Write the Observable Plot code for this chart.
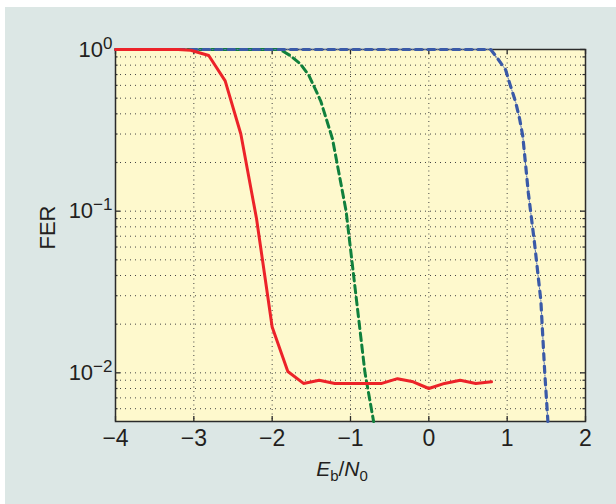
<!DOCTYPE html>
<html><head><meta charset="utf-8">
<script src="https://cdn.jsdelivr.net/npm/d3@7"></script>
<script src="https://cdn.jsdelivr.net/npm/@observablehq/plot@0.6"></script>
<style>
html,body{margin:0;padding:0;background:#fff;}
#wrap{position:absolute;left:5px;top:7px;width:611px;height:497px;background:#dce7e5;}
#wrap svg{background:transparent;font-family:"Liberation Sans",Arial,Helvetica,sans-serif;}
</style></head><body><div id="wrap"></div>
<script>
// Red (solid) curve
const redX = [-4, -3.2, -3.04, -2.81, -2.6, -2.4, -2.2, -2.0, -1.8, -1.6, -1.4, -1.2, -1.0, -0.8, -0.6, -0.4, -0.2, 0, 0.2, 0.4, 0.6, 0.8];
const redY = [1, 1, 0.99, 0.918, 0.64, 0.30, 0.090, 0.0192, 0.0102, 0.0086, 0.0090, 0.0086, 0.0086, 0.0086, 0.0086, 0.0092, 0.0088, 0.0080, 0.0086, 0.0090, 0.0086, 0.0088];
// Green (dashed) curve
const greenX = [-4, -1.9, -1.77, -1.64, -1.53, -1.38, -1.23, -1.056, -0.93, -0.815, -0.705];
const greenY = [1, 1, 0.918, 0.815, 0.69, 0.48, 0.28, 0.10, 0.030, 0.010, 0.005];
// Blue (dash-dot) curve
const blueX = [-4, 0.79, 0.85, 0.98, 1.04, 1.11, 1.16, 1.20, 1.27, 1.35, 1.43, 1.48, 1.52];
const blueY = [1, 1, 0.918, 0.75, 0.60, 0.47, 0.37, 0.29, 0.13, 0.063, 0.028, 0.010, 0.005];

const xTicks = [-4, -3, -2, -1, 0, 1, 2];
const xGrid = [-3, -2, -1, 0, 1];
const yMajor = [1, 0.1, 0.01];
const yMinor = [0.006, 0.007, 0.008, 0.009, 0.02, 0.03, 0.04, 0.05, 0.06, 0.07, 0.08, 0.09, 0.2, 0.3, 0.4, 0.5, 0.6, 0.7, 0.8, 0.9];
const yGrid = [0.006, 0.007, 0.008, 0.009, 0.01, 0.02, 0.03, 0.04, 0.05, 0.06, 0.07, 0.08, 0.09, 0.1, 0.2, 0.3, 0.4, 0.5, 0.6, 0.7, 0.8, 0.9];
const xDomain = [-4, 2];
const yDomain = [0.005, 1];

const toPts = (xs, ys) => xs.map((x, i) => ({x, y: ys[i]}));
const red = toPts(redX, redY), green = toPts(greenX, greenY), blue = toPts(blueX, blueY);

const W = 611, H = 497, mL = 110, mR = 31, mT = 42, mB = 83;
const fw = W - mL - mR, fh = H - mT - mB;
const ink = "#231f20";

const plot = Plot.plot({
  width: W, height: H,
  marginLeft: mL, marginRight: mR, marginTop: mT, marginBottom: mB,
  style: {background: "transparent", fontFamily: '"Liberation Sans", Arial, sans-serif', color: ink},
  x: {domain: xDomain},
  y: {type: "log", domain: yDomain},
  marks: [
    Plot.frame({fill: "#fef9cd", stroke: null}),
    Plot.ruleX(xGrid, {x: d => d, stroke: "#444", strokeDasharray: "1,3.5", strokeWidth: 1}),
    Plot.ruleY(yGrid, {y: d => d, stroke: "#444", strokeDasharray: "1,4", strokeWidth: 1}),
    Plot.frame({stroke: "#2b2b2b", strokeWidth: 1.5}),
    // inward ticks
    Plot.tickX(xTicks, {x: d => d, insetTop: fh - 5, stroke: "#2b2b2b", strokeWidth: 1.3}),
    Plot.tickX(xTicks, {x: d => d, insetBottom: fh - 5, stroke: "#2b2b2b", strokeWidth: 1.3}),
    Plot.tickY(yMajor, {y: d => d, insetRight: fw - 5, stroke: "#2b2b2b", strokeWidth: 1.3}),
    Plot.tickY(yMajor, {y: d => d, insetLeft: fw - 5, stroke: "#2b2b2b", strokeWidth: 1.3}),
    Plot.tickY(yMinor, {y: d => d, insetRight: fw - 2.5, stroke: "#2b2b2b", strokeWidth: 1.2}),
    Plot.tickY(yMinor, {y: d => d, insetLeft: fw - 2.5, stroke: "#2b2b2b", strokeWidth: 1.2}),
    Plot.axisX(xTicks, {tickSize: 0, tickPadding: 8, fontSize: 23, label: null, fill: ink}),
    Plot.axisY(yMajor, {tickSize: 0, tickPadding: 3, fontSize: 22, label: null, fill: ink,
      tickFormat: d => String(Math.round(Math.log10(d))).replace("-", "\u2212")}),
    Plot.line(green, {x: "x", y: "y", stroke: "#10803d", strokeWidth: 3, strokeDasharray: "7.5,4.5"}),
    Plot.line(blue, {x: "x", y: "y", stroke: "#3a5aa8", strokeWidth: 3.2, strokeDasharray: "6.5,6"}),
    Plot.line(blue, {x: "x", y: "y", stroke: "#5470b5", strokeWidth: 1, strokeDasharray: "1.2,11.3", strokeDashoffset: -9}),
    Plot.line(red, {x: "x", y: "y", stroke: "#ec2329", strokeWidth: 3}),
    Plot.text(["FER"], {frameAnchor: "left", dx: -68, dy: 14, rotate: -90, fontSize: 22, fill: ink})
  ]
});
document.getElementById("wrap").appendChild(plot);

// y tick labels as 10^k with superscripts
d3.select(plot).selectAll('g[aria-label="y-axis tick label"] text').each(function() {
  const t = d3.select(this);
  const exp = t.text();
  t.text("");
  t.append("tspan").text("10");
  t.append("tspan").attr("dy", "-8").attr("font-size", "17").text(exp);
});

// x axis label E_b/N_0
const xl = d3.select(plot).append("text")
  .attr("x", mL + fw / 2 - 8).attr("y", 469)
  .attr("text-anchor", "middle").attr("font-size", 21).attr("fill", ink)
  .attr("font-family", '"Liberation Sans", Arial, sans-serif');
xl.append("tspan").attr("font-style", "italic").text("E");
xl.append("tspan").attr("font-size", 15).attr("dy", 5).text("b");
xl.append("tspan").attr("dy", -5).text("/");
xl.append("tspan").attr("font-style", "italic").text("N");
xl.append("tspan").attr("font-size", 15).attr("dy", 5).text("0");
</script></body></html>
